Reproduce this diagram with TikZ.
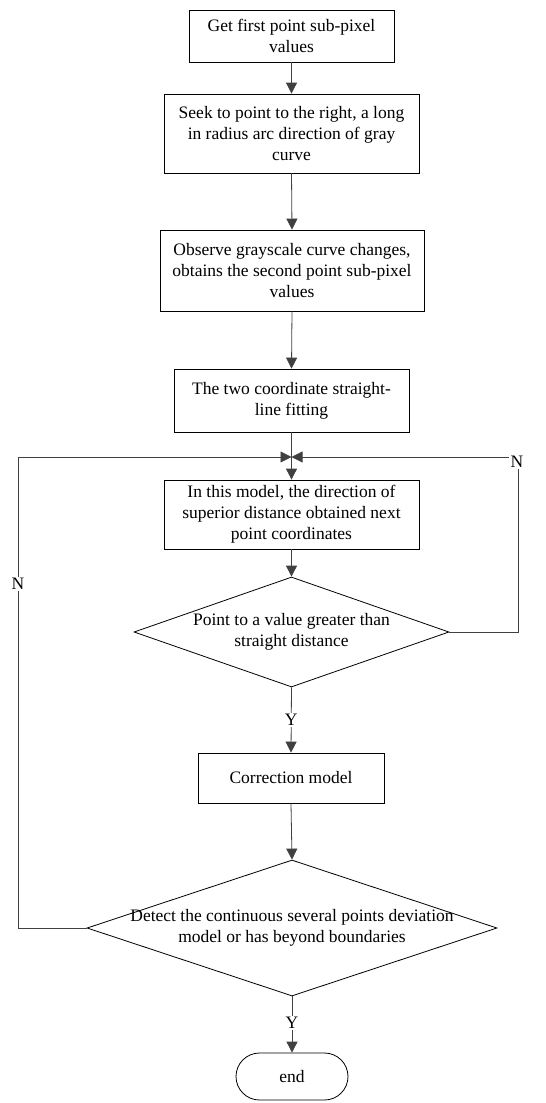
\documentclass[tikz,border=0pt]{standalone}
\usepackage{fontspec}
\setmainfont{Liberation Serif}
\usetikzlibrary{shapes.geometric,arrows.meta}
\begin{document}
\begin{tikzpicture}[x=1pt,y=-1pt,
  every node/.style={font=\fontsize{17.5}{21}\selectfont},
  pbox/.style={draw=black,line width=0.8pt,rectangle,align=center,inner sep=0pt},
  dbox/.style={draw=black,line width=0.8pt,diamond,inner sep=0pt},
  conn/.style={draw=black!75,line width=0.8pt},
  arr/.style={conn,-{Triangle[length=11pt,width=11pt]}},
  lbl/.style={fill=white,inner sep=1.5pt}]
\useasboundingbox (0,0) rectangle (546,1103);
\node[pbox,minimum width=205,minimum height=52] (b1) at (291.5,36) {Get first point sub-pixel\\values};
\node[pbox,minimum width=255,minimum height=79] (b2) at (291.5,133.5) {Seek to point to the right, a long\\in radius arc direction of gray\\curve};
\node[pbox,minimum width=264,minimum height=81] (b3) at (292,270.5) {Observe grayscale curve changes,\\obtains the second point sub-pixel\\values};
\node[pbox,minimum width=235,minimum height=63] (b4) at (291.5,400.5) {The two coordinate straight-\\line fitting};
\node[pbox,minimum width=255,minimum height=69] (b5) at (291.5,514.5) {In this model, the direction of\\superior distance obtained next\\point coordinates};
\node[dbox,minimum width=315,minimum height=110,label={[align=center]center:Point to a value greater than\\straight distance}] (d1) at (291.5,632) {};
\node[pbox,minimum width=186,minimum height=50] (b6) at (291,778) {Correction model};
\node[dbox,minimum width=410,minimum height=136,label={[align=center]center:Detect the continuous several points deviation\\model or has beyond boundaries}] (d2) at (292,928) {};
\node[draw=black,line width=0.8pt,rounded corners=23.5pt,minimum width=112,minimum height=47,inner sep=0pt] (e) at (292,1076.5) {end};
\coordinate (J) at (291.5,457);
\coordinate (lc) at (18,457);
\coordinate (rc) at (518,457);
\draw[arr] (b1.south) -- (b2.north);
\draw[arr] (b2.south) -- (b3.north);
\draw[arr] (b3.south) -- (b4.north);
\draw[arr] (b4.south) -- (b5.north);
\draw[arr] (b5.south) -- (d1.north);
\draw[arr] (d1.south) -- node[lbl,pos=0.5]{Y} (b6.north);
\draw[arr] (b6.south) -- (d2.north);
\draw[arr] (d2.south) -- node[lbl,pos=0.47]{Y} (e.north);
\draw[arr] (d1.east) -| (rc) -- (J);
\draw[arr] (d2.west) -| (lc) -- (J);
\node[lbl] (nl) at (18,584) {N};
\node[lbl] (nr) at (517,462) {N};
\end{tikzpicture}
\end{document}
